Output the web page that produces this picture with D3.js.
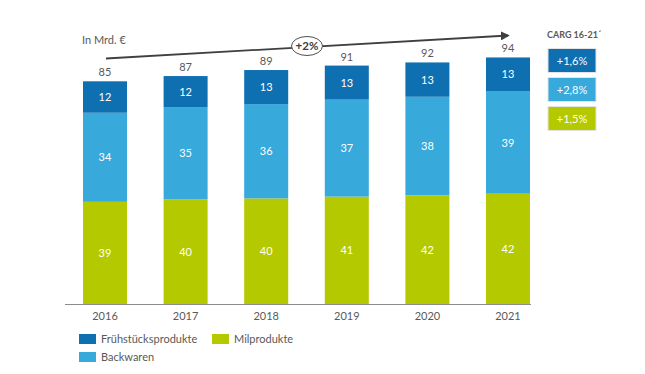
<!DOCTYPE html>
<html>
<head>
<meta charset="utf-8">
<script src="https://cdn.jsdelivr.net/npm/d3@7"></script>
<style>
  body { margin: 0; background: #fff; }
  svg { font-family: Lato, "Open Sans", sans-serif; }
</style>
</head>
<body>
<div id="wrapper"></div>
<script>
// data
var years = ["2016", "2017", "2018", "2019", "2020", "2021"];
var milchprodukte = [39, 40, 40.3, 41, 41.5, 42.1];
var backwaren = [34, 35, 36, 37, 37.6, 39];
var fruehstueck = [12, 12, 13, 13, 13.1, 13];
var totals = [85, 87, 89, 91, 92, 94];
var seriesNames = ["Frühstücksprodukte", "Backwaren", "Milprodukte"];
var cagrLabels = ["+1,6%", "+2,8%", "+1,5%"];

var colors = { dark: "#0e6fb1", light: "#37a9db", green: "#b5c900" };
var textGray = "#595959";

var width = 645, height = 374;
var baseline = 304;

const svg = d3.select("#wrapper")
  .append("svg")
  .attr("width", width)
  .attr("height", height);

// build stacked rows
var rows = years.map(function (y, i) {
  return { year: y, milch: milchprodukte[i], back: backwaren[i], frueh: fruehstueck[i], total: totals[i] };
});
var stack = d3.stack().keys(["milch", "back", "frueh"]);
var stacked = stack(rows);
var fills = { milch: colors.green, back: colors.light, frueh: colors.dark };

const xScale = d3.scaleBand()
  .domain(years)
  .range([83, 530])
  .paddingInner(0.454)
  .paddingOuter(0);

const yScale = d3.scaleLinear()
  .domain([0, 100])
  .range([baseline, baseline - 262]);

// bars
const layers = svg.append("g")
  .selectAll("g")
  .data(stacked)
  .enter()
  .append("g")
  .attr("fill", d => fills[d.key]);

layers.selectAll("rect")
  .data(d => d)
  .enter()
  .append("rect")
  .attr("x", d => xScale(d.data.year))
  .attr("width", xScale.bandwidth())
  .attr("y", d => yScale(d[1]))
  .attr("height", d => yScale(d[0]) - yScale(d[1]));

// segment labels
layers.selectAll("text")
  .data(d => d)
  .enter()
  .append("text")
  .attr("x", d => xScale(d.data.year) + xScale.bandwidth() / 2)
  .attr("y", d => (yScale(d[0]) + yScale(d[1])) / 2 + 4)
  .attr("text-anchor", "middle")
  .attr("fill", "#fff")
  .style("font-size", "11px")
  .text(d => Math.round(d[1] - d[0]));

// totals above bars
svg.append("g")
  .selectAll("text")
  .data(rows)
  .enter()
  .append("text")
  .attr("x", d => xScale(d.year) + xScale.bandwidth() / 2)
  .attr("y", d => yScale(d3.sum([d.milch, d.back, d.frueh])) - 5)
  .attr("text-anchor", "middle")
  .attr("fill", textGray)
  .style("font-size", "11px")
  .text(d => d.total);

// x axis
const xAxis = svg.append("g")
  .attr("transform", `translate(0,${baseline})`)
  .call(d3.axisBottom(xScale).tickSize(0).tickPadding(8));
xAxis.select(".domain").remove();
xAxis.selectAll("text")
  .attr("fill", textGray)
  .style("font-size", "11px")
  .style("font-family", "Lato, sans-serif");
svg.append("line")
  .attr("x1", 65).attr("x2", 531)
  .attr("y1", baseline + 0.5).attr("y2", baseline + 0.5)
  .attr("stroke", "#8c8c8c")
  .attr("stroke-width", 1);

// unit label
svg.append("text")
  .attr("x", 82)
  .attr("y", 44)
  .attr("fill", textGray)
  .style("font-size", "11px")
  .text("In Mrd. €");

// growth arrow
svg.append("defs").append("marker")
  .attr("id", "arrow")
  .attr("viewBox", "0 0 10 10")
  .attr("refX", 8).attr("refY", 5)
  .attr("markerWidth", 5).attr("markerHeight", 5)
  .attr("orient", "auto")
  .append("path")
  .attr("d", "M0,0 L10,5 L0,10 z")
  .attr("fill", "#404040");

svg.append("line")
  .attr("x1", 106).attr("y1", 58.5)
  .attr("x2", 508).attr("y2", 35.5)
  .attr("stroke", "#404040")
  .attr("stroke-width", 1.8)
  .attr("marker-end", "url(#arrow)");

svg.append("ellipse")
  .attr("cx", 307).attr("cy", 46)
  .attr("rx", 15.5).attr("ry", 9.5)
  .attr("fill", "#fff")
  .attr("stroke", "#505050")
  .attr("stroke-width", 1);

svg.append("text")
  .attr("x", 307).attr("y", 50)
  .attr("text-anchor", "middle")
  .attr("fill", "#404040")
  .style("font-size", "11.5px")
  .style("font-weight", "bold")
  .text("+2%");

// CAGR boxes
svg.append("text")
  .attr("x", 547)
  .attr("y", 38)
  .attr("fill", textGray)
  .style("font-size", "9px")
  .style("font-weight", "bold")
  .text("CARG 16-21´");

var cagrColors = [colors.dark, colors.light, colors.green];
const boxes = svg.append("g")
  .selectAll("g")
  .data(cagrLabels)
  .enter()
  .append("g")
  .attr("transform", (d, i) => `translate(548,${48.5 + i * 29})`);

boxes.append("rect")
  .attr("width", 48)
  .attr("height", 24)
  .attr("fill", (d, i) => cagrColors[i])
  .attr("stroke", "#e4e4e4")
  .attr("stroke-width", 1);

boxes.append("text")
  .attr("x", 24)
  .attr("y", 16)
  .attr("text-anchor", "middle")
  .attr("fill", "#fff")
  .style("font-size", "11px")
  .text(d => d);

// legend
var legendItems = [
  { name: seriesNames[0], color: colors.dark, x: 79, y: 334 },
  { name: seriesNames[2], color: colors.green, x: 212, y: 334 },
  { name: seriesNames[1], color: colors.light, x: 79, y: 352 }
];
const legend = svg.append("g")
  .selectAll("g")
  .data(legendItems)
  .enter()
  .append("g")
  .attr("transform", d => `translate(${d.x},${d.y})`);

legend.append("rect")
  .attr("width", 17)
  .attr("height", 10)
  .attr("fill", d => d.color);

legend.append("text")
  .attr("x", 22)
  .attr("y", 9)
  .attr("fill", textGray)
  .style("font-size", "11px")
  .text(d => d.name);
</script>
</body>
</html>
